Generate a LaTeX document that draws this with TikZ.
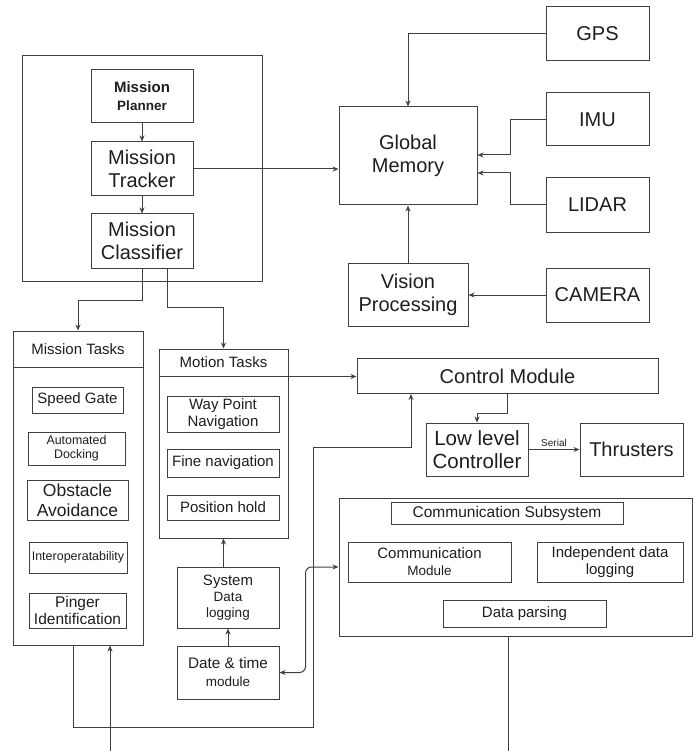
\documentclass[tikz,border=0pt]{standalone}
\usepackage{fontspec}
\setmainfont{Liberation Sans}
\usepackage{xcolor}
\usepackage{tikz}
\usetikzlibrary{positioning, arrows.meta}
\definecolor{linegray}{HTML}{404040}
\definecolor{textgray}{HTML}{1E1E1E}
\newcommand{\fsz}[2]{\fontsize{#1}{#2}\selectfont}
\newcommand{\bigtxt}{\fontsize{20}{23}\selectfont}
\newcommand{\midtxt}{\fontsize{15}{17}\selectfont}
\tikzset{
  blockbox/.style={draw=linegray, line width=1pt, text=textgray, align=center,
                   inner sep=1pt, font=\bigtxt},
  conn/.style={draw=linegray, line width=1pt},
  arr/.style={conn, -{Stealth[length=6pt, width=5pt]}},
  arrboth/.style={conn, {Stealth[length=6pt, width=5pt]}-{Stealth[length=6pt, width=5pt]}},
}

\begin{document}
\begin{tikzpicture}[x=1pt, y=-1pt]
  \useasboundingbox (0,0) rectangle (697,751);

  % mission planning block
  \node[blockbox, minimum width=240pt, minimum height=225pt] (missionbox) at (142,168.5) {};
  \node[blockbox, font=\bfseries\fsz{13.5}{18}, minimum width=102pt, minimum height=53pt] (planner) at (142,96.5)
    {{\fsz{15}{18}Mission}\\Planner};
  \node[blockbox, minimum width=102pt, minimum height=54pt] (tracker) at (142,169) {Mission\\Tracker};
  \node[blockbox, minimum width=102pt, minimum height=54pt] (classifier) at (142,241) {Mission\\Classifier};

  % sensors and memory
  \node[blockbox, minimum width=138pt, minimum height=98pt] (gmem) at (408,156) {Global\\Memory};
  \node[blockbox, minimum width=103pt, minimum height=54pt] (gps) at (597.5,34) {GPS};
  \node[blockbox, minimum width=103pt, minimum height=53pt] (imu) at (597.5,119.5) {IMU};
  \node[blockbox, minimum width=103pt, minimum height=54pt] (lidar) at (597.5,205) {LIDAR};
  \node[blockbox, minimum width=103pt, minimum height=54pt] (camera) at (597.5,295) {CAMERA};
  \node[blockbox, minimum width=120pt, minimum height=63pt] (vision) at (408,294.5) {Vision\\Processing};

  % mission tasks
  \node[blockbox, minimum width=130pt, minimum height=314pt] (mtasks) at (78,488) {};
  \node[blockbox, font=\midtxt, minimum width=130pt, minimum height=36pt] (mthead) at (78,349) {Mission Tasks};
  \node[blockbox, font=\midtxt, minimum width=91pt, minimum height=26pt] (speedgate) at (77.5,400) {Speed Gate};
  \node[blockbox, font=\fsz{12.4}{14.5}, minimum width=97pt, minimum height=33pt] (docking) at (76.5,448.5) {Automated\\Docking};
  \node[blockbox, font=\fsz{17.5}{20}, minimum width=101pt, minimum height=40pt] (obstacle) at (77.5,500) {Obstacle\\Avoidance};
  \node[blockbox, font=\fsz{12.5}{15}, minimum width=98pt, minimum height=31pt] (interop) at (78,557.5) {Interoperatability};
  \node[blockbox, font=\fsz{15.5}{16.5}, minimum width=97pt, minimum height=35pt] (pinger) at (77.5,610.5) {Pinger\\Identification};

  % motion tasks
  \node[blockbox, minimum width=129pt, minimum height=189pt] (motion) at (223.5,443.5) {};
  \node[blockbox, font=\midtxt, minimum width=129pt, minimum height=27pt] (motionhead) at (223.5,362.5) {Motion Tasks};
  \node[blockbox, font=\midtxt, minimum width=112pt, minimum height=36pt] (waypoint) at (223,414) {Way Point\\Navigation};
  \node[blockbox, font=\midtxt, minimum width=112pt, minimum height=28pt] (finenav) at (223,463) {Fine navigation};
  \node[blockbox, font=\midtxt, minimum width=112pt, minimum height=25pt] (poshold) at (223,507.5) {Position hold};
  \node[blockbox, font=\fsz{13.5}{16}, minimum width=102pt, minimum height=61pt] (syslog) at (228,597.5)
    {{\fsz{15}{17}System}\\Data\\logging};
  \node[blockbox, font=\fsz{13.5}{18}, minimum width=102pt, minimum height=53pt] (datetime) at (228,672.5)
    {{\fsz{15.3}{18}Date \& time}\\module};

  % control
  \node[blockbox, minimum width=301pt, minimum height=35pt] (ctrl) at (507.5,376) {Control Module};
  \node[blockbox, font=\fsz{20.5}{23}, minimum width=102pt, minimum height=53pt] (lowlevel) at (477,449.5) {Low level\\Controller};
  \node[blockbox, minimum width=103pt, minimum height=53pt] (thrusters) at (631.5,449.5) {Thrusters};

  % communication
  \node[blockbox, minimum width=353pt, minimum height=138pt] (comm) at (515.5,567) {};
  \node[blockbox, font=\fsz{15.5}{17}, minimum width=232pt, minimum height=22pt] (commhead) at (507,513) {Communication Subsystem};
  \node[blockbox, font=\fsz{13.5}{17}, minimum width=163pt, minimum height=40pt] (commmod) at (429.5,562)
    {{\midtxt Communication}\\Module};
  \node[blockbox, font=\midtxt, minimum width=146pt, minimum height=40pt] (indep) at (610,562) {Independent data\\logging};
  \node[blockbox, font=\midtxt, minimum width=163pt, minimum height=27pt] (parsing) at (524.5,613.5) {Data parsing};

  \coordinate (infeed) at (110,751);
  \coordinate (commout) at (508,751);

  % connectors
  \draw[arr] (planner) -- (tracker);
  \draw[arr] (tracker) -- (classifier);
  \draw[arr] (tracker.east) -- (tracker.east -| gmem.west);
  \draw[arr] (classifier.south) -- ++(0,32) -| (mthead.north);
  \draw[arr] ([xshift=25pt]classifier.south) -- ++(0,39) -| (motionhead.north);
  \draw[arr] (gps.west) -| (gmem.north);
  \draw[arr] (imu.west) -- ++(-35,0) |- ([yshift=1pt]gmem.east);
  \draw[arr] (lidar.west) -- ++(-35,0) |- ([yshift=-17pt]gmem.east);
  \draw[arr] (vision) -- (gmem);
  \draw[arr] (camera.west) -- (camera.west -| vision.east);
  \draw[arr] (datetime.north) -- (datetime.north |- syslog.south);
  \draw[arr] (syslog.north -| motion.south) -- (motion.south);
  \draw[arr] (motionhead.south east) -- (motionhead.south east -| ctrl.west);
  \draw[arr] (ctrl.south) -- ++(0,19) -| (lowlevel.north);
  \draw[arr] (lowlevel) -- node[above, font=\fsz{10}{12}, text=textgray, inner sep=2pt] {Serial} (thrusters);
  \draw[arr] ([xshift=-5pt]mtasks.south) -- ++(0,82) -| (313,447) -| ([xshift=-96.5pt]ctrl.south);
  \draw[arr] (infeed) -- (infeed |- mtasks.south);
  \draw[arrboth, rounded corners=6pt] (datetime.east) -- ++(26,0) |- (comm.west);
  \draw[conn] (comm.south -| commout) -- (commout);
\end{tikzpicture}
\end{document}
